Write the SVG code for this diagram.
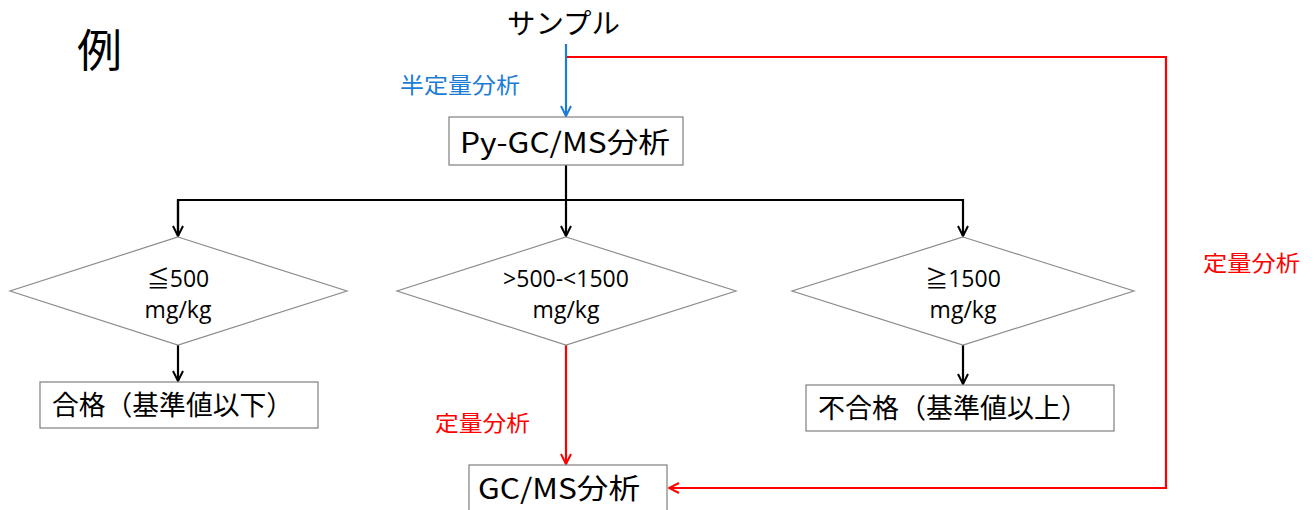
<svg xmlns="http://www.w3.org/2000/svg" width="1314" height="510" viewBox="0 0 1314 510">
<defs>
<style>
.jp{font-family:"Noto Sans CJK JP","Noto Sans",sans-serif;}
.lat{font-family:"Open Sans","Noto Sans CJK JP",sans-serif;}
.box{fill:#fff;stroke:#7f7f7f;stroke-width:1.2;}
.dia{fill:#fff;stroke:#8c8c8c;stroke-width:1.2;}
.blk{fill:none;stroke:#000;stroke-width:2.2;}
.red{fill:none;stroke:#ff0000;stroke-width:2.2;}
.blu{fill:none;stroke:#1c7cd5;stroke-width:2.2;}
</style>
<marker id="ab" viewBox="0 0 12 12" refX="11" refY="6" markerWidth="12" markerHeight="12" markerUnits="userSpaceOnUse" orient="auto"><path d="M1,1 L11,6 L1,11" fill="none" stroke="#000" stroke-width="2"/></marker>
<marker id="ar" viewBox="0 0 12 12" refX="11" refY="6" markerWidth="12" markerHeight="12" markerUnits="userSpaceOnUse" orient="auto"><path d="M1,1 L11,6 L1,11" fill="none" stroke="#ff0000" stroke-width="2"/></marker>
<marker id="au" viewBox="0 0 12 12" refX="11" refY="6" markerWidth="12" markerHeight="12" markerUnits="userSpaceOnUse" orient="auto"><path d="M1,1 L11,6 L1,11" fill="none" stroke="#1c7cd5" stroke-width="2"/></marker>
</defs>
<rect width="1314" height="510" fill="#fff"/>
<text x="77" y="67" class="jp" font-size="45" fill="#000">例</text>

<g id="connectors">
<line class="blu" x1="566" y1="44" x2="566" y2="116" marker-end="url(#au)"/>
<polyline class="red" points="567,57 1166,57 1166,488 669,488" marker-end="url(#ar)"/>
<line class="blk" x1="566" y1="165" x2="566" y2="236" marker-end="url(#ab)"/>
<polyline class="blk" points="178,236 178,200 963,200 963,236" marker-end="url(#ab)"/>
<line class="blk" x1="178" y1="200" x2="178" y2="236" marker-end="url(#ab)"/>
<line class="blk" x1="178" y1="345" x2="178" y2="381" marker-end="url(#ab)"/>
<line class="blk" x1="963" y1="345" x2="963" y2="384" marker-end="url(#ab)"/>
<line class="red" x1="566" y1="345" x2="566" y2="464" marker-end="url(#ar)"/>
<text x="400" y="93" class="jp" font-size="22" fill="#1c7cd5" textLength="120" lengthAdjust="spacingAndGlyphs">半定量分析</text>
<text x="435" y="431" class="jp" font-size="22" fill="#ff0000" textLength="95" lengthAdjust="spacingAndGlyphs">定量分析</text>
<text x="1203" y="271" class="jp" font-size="22" fill="#ff0000" textLength="97" lengthAdjust="spacingAndGlyphs">定量分析</text>
</g>

<g id="sample">
<text x="507" y="34" class="jp" font-size="28" fill="#000" textLength="113" lengthAdjust="spacingAndGlyphs">サンプル</text>
</g>

<g id="pygcms">
<rect class="box" x="449" y="117" width="234" height="48"/>
<text x="460" y="153" class="jp" font-size="28" fill="#000" textLength="210" lengthAdjust="spacingAndGlyphs">Py-GC/MS分析</text>
</g>

<g id="d1">
<polygon class="dia" points="178,237 347,291 178,345 10,291"/>
<text x="178" y="287" class="lat" font-size="23" text-anchor="middle" fill="#000">≦500</text>
<text x="178" y="318" class="lat" font-size="23" text-anchor="middle" fill="#000">mg/kg</text>
</g>

<g id="d2">
<polygon class="dia" points="566,237 736,291 566,345 397,291"/>
<text x="566" y="287" class="lat" font-size="23" text-anchor="middle" fill="#000">&gt;500-&lt;1500</text>
<text x="566" y="318" class="lat" font-size="23" text-anchor="middle" fill="#000">mg/kg</text>
</g>

<g id="d3">
<polygon class="dia" points="963,237 1134,291 963,345 792,291"/>
<text x="963" y="287" class="lat" font-size="23" text-anchor="middle" fill="#000">≧1500</text>
<text x="963" y="318" class="lat" font-size="23" text-anchor="middle" fill="#000">mg/kg</text>
</g>

<g id="pass">
<rect class="box" x="40" y="382" width="278" height="46"/>
<text x="52" y="415" class="jp" font-size="27" fill="#000" textLength="241" lengthAdjust="spacingAndGlyphs">合格（基準値以下）</text>
</g>

<g id="fail">
<rect class="box" x="806" y="385" width="308" height="46"/>
<text x="818" y="418" class="jp" font-size="27" fill="#000" textLength="270" lengthAdjust="spacingAndGlyphs">不合格（基準値以上）</text>
</g>

<g id="gcms">
<rect class="box" x="469" y="465" width="198" height="52"/>
<text x="478" y="499" class="jp" font-size="28" fill="#000" textLength="162" lengthAdjust="spacingAndGlyphs">GC/MS分析</text>
</g>
</svg>
